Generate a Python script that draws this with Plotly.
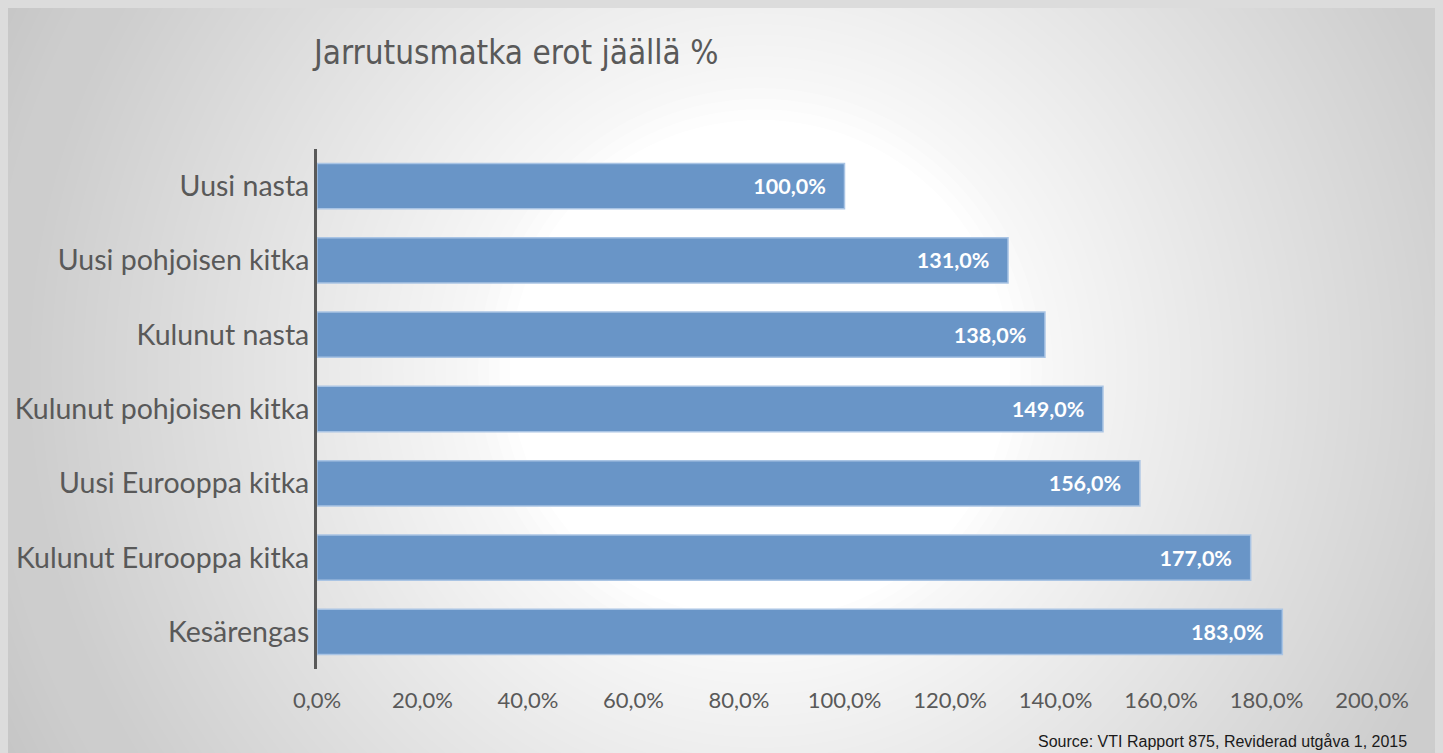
import plotly.graph_objects as go

categories = ["Uusi nasta", "Uusi pohjoisen kitka", "Kulunut nasta",
              "Kulunut pohjoisen kitka", "Uusi Eurooppa kitka",
              "Kulunut Eurooppa kitka", "Kesärengas"]
values = [100.0, 131.0, 138.0, 149.0, 156.0, 177.0, 183.0]
tick_values = [0, 20, 40, 60, 80, 100, 120, 140, 160, 180, 200]
tick_labels = ["0,0%", "20,0%", "40,0%", "60,0%", "80,0%", "100,0%",
               "120,0%", "140,0%", "160,0%", "180,0%", "200,0%"]
title_text = "Jarrutusmatka erot jäällä %"
source_text = "Source: VTI Rapport 875, Reviderad utgåva 1, 2015"


def fmt(v):
    return f"{v:.1f}".replace(".", ",") + "%" + "\u00a0" * 3


# page body has an 8px margin; work in screen pixels and shift
O = 8
SW, SH = 1443, 753
W, H = SW - O, SH - O
# plot area in screen pixels
PX0, PX1, PY0, PY1 = 317, 1372, 149, 669
ML, MR = PX0 - O, SW - PX1
MT, MB = PY0 - O, SH - PY1
PW, PH = PX1 - PX0, PY1 - PY0


def px(x):
    return (x - PX0) / PW


def py(y):
    return (PY1 - y) / PH


fig = go.Figure()
fig.add_trace(go.Bar(
    y=categories, x=values, orientation="h",
    marker=dict(color="#6995c7", line=dict(color="#a9c4e4", width=1.5)),
    width=0.61,
    text=[fmt(v) for v in values],
    textposition="inside", insidetextanchor="end",
    textfont=dict(family="Lato", size=21.5, color="white", weight="bold"),
    cliponaxis=False,
))

# radial background gradient: white plateau then linear fall-off
shapes = []
cx, cy = 760, 370
R_MAX, R0 = 880, 250
N = 60
step = (R_MAX - R0) / (N - 1)
for k in range(N):
    r = R_MAX - k * step
    a = 1.0 / (N - k)
    shapes.append(dict(type="circle", xref="paper", yref="paper",
                       x0=px(cx - r), x1=px(cx + r),
                       y0=py(cy + r), y1=py(cy - r),
                       fillcolor="white", opacity=a,
                       line=dict(width=0), layer="below"))

fig.update_layout(
    width=W, height=H,
    margin=dict(l=ML, r=MR, t=MT, b=MB, autoexpand=False),
    paper_bgcolor="#c6c6c6", plot_bgcolor="rgba(0,0,0,0)",
    shapes=shapes,
    showlegend=False,
    annotations=[
        dict(text=title_text, xref="paper", yref="paper",
             x=px(310), y=py(52), xanchor="left", yanchor="middle",
             showarrow=False,
             font=dict(family="DejaVu Sans Condensed, Lato", size=33,
                       color="#595959")),
        dict(text=source_text, xref="paper", yref="paper",
             x=px(1409), y=py(741), xanchor="right", yanchor="middle",
             showarrow=False,
             font=dict(family="Liberation Sans", size=16, color="#1a1a1a")),
    ],
    xaxis=dict(range=[0, 200], tickvals=tick_values, ticktext=tick_labels,
               showgrid=False, zeroline=False, showline=False, ticks="",
               automargin=False, ticklabelstandoff=16,
               tickfont=dict(family="Lato", size=22, color="#595959")),
    yaxis=dict(categoryorder="array", categoryarray=categories,
               autorange="reversed", showgrid=False, zeroline=False,
               showline=True, linecolor="#595959", linewidth=3,
               ticks="", automargin=False, ticklabelstandoff=-1,
               tickfont=dict(family="Lato", size=28.5, color="#595959")),
)

fig.write_html("out.html",
               post_script="document.body.style.background='#dcdcdc';")
